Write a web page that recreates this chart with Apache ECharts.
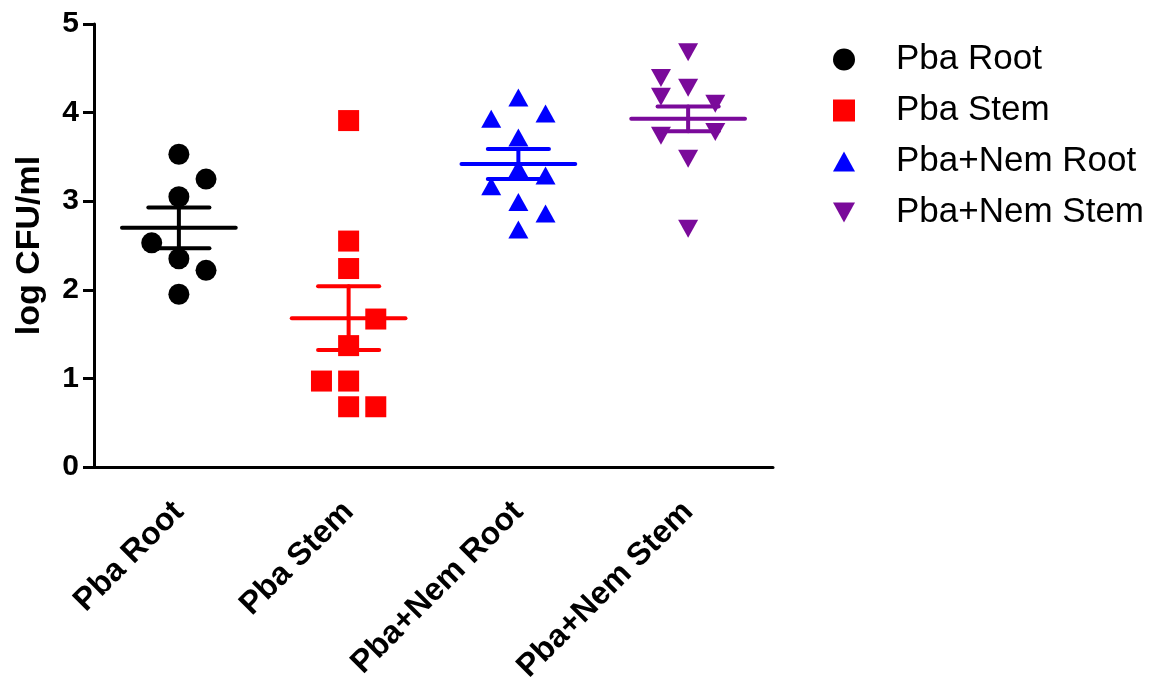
<!DOCTYPE html>
<html>
<head>
<meta charset="utf-8">
<script src="https://cdn.jsdelivr.net/npm/echarts@6/dist/echarts.min.js"></script>
<style>html,body{margin:0;padding:0;background:#fff;}#c{width:1154px;height:691px;}</style>
</head>
<body>
<div id="c"></div>
<script>
// ---- data ----
var categories = ['Pba Root', 'Pba Stem', 'Pba+Nem Root', 'Pba+Nem Stem'];
var yTicks = [0, 1, 2, 3, 4, 5];
var pbaRootVals = [3.53, 3.25, 3.05, 2.53, 2.35, 2.22, 1.95];
var pbaRootCols = [0, 1, 0, -1, 0, 1, 0];
var pbaStemVals = [3.91, 2.55, 2.24, 1.67, 1.37, 0.97, 0.97, 0.68, 0.68];
var pbaStemCols = [0, 0, 0, 1, 0, -1, 0, 0, 1];
var nemRootVals = [4.17, 3.93, 3.99, 3.72, 3.37, 3.29, 3.17, 2.99, 2.86, 2.68];
var nemRootCols = [0, -1, 1, 0, 0, 1, -1, 0, 1, 0];
var nemStemVals = [4.68, 4.39, 4.28, 4.18, 4.10, 3.74, 3.78, 3.48, 2.69];
var nemStemCols = [0, -1, 0, -1, 1, -1, 1, 0, 0];
var meanVals = [2.70, 1.68, 3.42, 3.93];
var semVals = [0.23, 0.36, 0.17, 0.14];

// ---- styling / layout ----
var colors = ['#000000', '#ff0000', '#0000ff', '#7a0a9a'];
var FONT = 'Liberation Sans, Arial, sans-serif';
var COL_STEP = 0.16;
var triUp = 'path://M5,0 L10,9 L0,9 Z';
var triDown = 'path://M0,0 L10,0 L5,9 Z';
var symbols = ['circle', 'rect', triUp, triDown];
var symSizes = [21, 21, [20, 18], [20, 18]];
var groups = [
  [pbaRootVals, pbaRootCols],
  [pbaStemVals, pbaStemCols],
  [nemRootVals, nemRootCols],
  [nemStemVals, nemStemCols]
];

var series = [];
groups.forEach(function (g, gi) {
  var data = g[0].map(function (v, i) { return [gi + g[1][i] * COL_STEP, v]; });
  series.push({
    name: categories[gi],
    type: 'scatter',
    xAxisIndex: 1,
    yAxisIndex: 0,
    symbol: symbols[gi],
    symbolSize: symSizes[gi],
    itemStyle: { color: colors[gi], opacity: 1 },
    data: data,
    z: 2,
    emphasis: { disabled: true }
  });
});

var errData = meanVals.map(function (m, i) { return [i, m, semVals[i]]; });
series.push({
  name: 'meanSem',
  type: 'custom',
  xAxisIndex: 1,
  yAxisIndex: 0,
  z: 5,
  silent: true,
  data: errData,
  renderItem: function (params, api) {
    var x = api.value(0), m = api.value(1), s = api.value(2);
    var c = colors[params.dataIndex];
    var meanL = api.coord([x - 0.335, m]), meanR = api.coord([x + 0.335, m]);
    var hiL = api.coord([x - 0.18, m + s]), hiR = api.coord([x + 0.18, m + s]);
    var loL = api.coord([x - 0.18, m - s]), loR = api.coord([x + 0.18, m - s]);
    var hiC = api.coord([x, m + s]), loC = api.coord([x, m - s]);
    var st = { stroke: c, lineWidth: 4, lineCap: 'round' };
    return {
      type: 'group',
      children: [
        { type: 'line', shape: { x1: meanL[0], y1: meanL[1], x2: meanR[0], y2: meanR[1] }, style: st },
        { type: 'line', shape: { x1: hiL[0], y1: hiL[1], x2: hiR[0], y2: hiR[1] }, style: st },
        { type: 'line', shape: { x1: loL[0], y1: loL[1], x2: loR[0], y2: loR[1] }, style: st },
        { type: 'line', shape: { x1: hiC[0], y1: hiC[1], x2: loC[0], y2: loC[1] }, style: st }
      ]
    };
  }
});

var chart = echarts.init(document.getElementById('c'), null, { renderer: 'canvas' });
chart.setOption({
  animation: false,
  backgroundColor: '#ffffff',
  textStyle: { fontFamily: FONT },
  grid: { left: 94, right: 381, top: 24, bottom: 224, containLabel: false },
  legend: {
    orient: 'vertical',
    left: 828,
    top: 37,
    itemWidth: 22,
    itemHeight: 22,
    itemGap: 16,
    selectedMode: false,
    data: categories.map(function (c, i) {
      return { name: c, icon: symbols[i], itemStyle: { color: colors[i] } };
    }),
    textStyle: { fontFamily: FONT, fontSize: 35, color: '#000', lineHeight: 35, padding: [0, 0, 0, 36] }
  },
  xAxis: [
    {
      type: 'category',
      data: categories,
      boundaryGap: true,
      axisLine: { lineStyle: { color: '#000', width: 3 } },
      axisTick: { alignWithLabel: true, length: 12, lineStyle: { color: '#000', width: 3 } },
      axisLabel: { rotate: 45, margin: 40, color: '#000', fontWeight: 'bold', fontSize: 32, fontFamily: FONT },
      splitLine: { show: false }
    },
    {
      type: 'value',
      min: -0.5,
      max: 3.5,
      show: false,
      splitLine: { show: false }
    }
  ],
  yAxis: [{
    type: 'value',
    min: yTicks[0],
    max: yTicks[yTicks.length - 1],
    interval: 1,
    name: 'log CFU/ml',
    nameLocation: 'middle',
    nameGap: 47,
    nameTextStyle: { color: '#000', fontWeight: 'bold', fontSize: 34, fontFamily: FONT },
    axisLine: { show: true, onZero: false, lineStyle: { color: '#000', width: 3 } },
    axisTick: { show: true, length: 11, lineStyle: { color: '#000', width: 3 } },
    axisLabel: { color: '#000', fontWeight: 'bold', fontSize: 30, margin: 15, fontFamily: FONT },
    splitLine: { show: false }
  }],
  series: series
});
</script>
</body>
</html>
